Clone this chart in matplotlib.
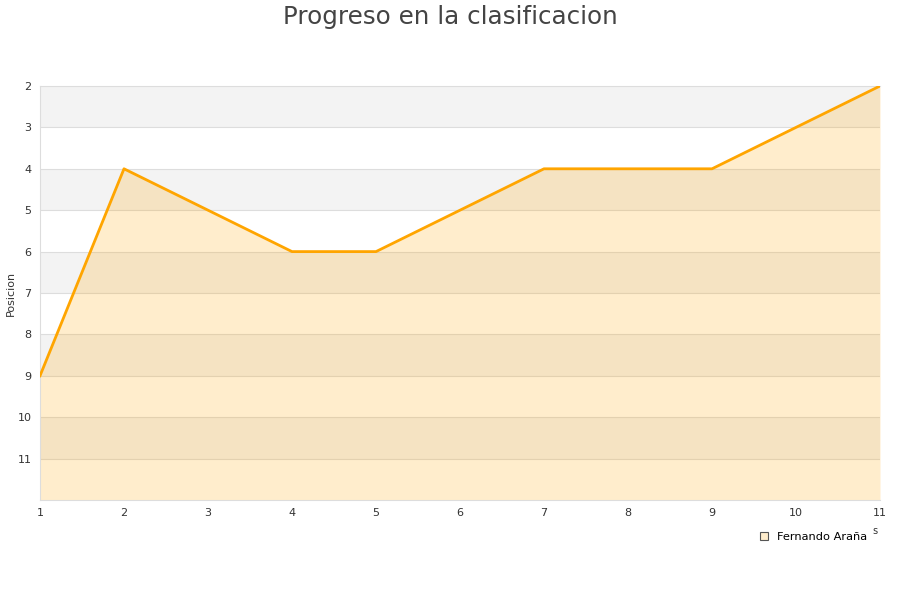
import matplotlib
matplotlib.use("Agg")
import matplotlib.pyplot as plt
from matplotlib.lines import Line2D

jornadas = [1, 2, 3, 4, 5, 6, 7, 8, 9, 10, 11]
posicion = [9, 4, 5, 6, 6, 5, 4, 4, 4, 3, 2]
y_ticks = [2, 3, 4, 5, 6, 7, 8, 9, 10, 11]
serie = "Fernando Araña"

fig = plt.figure(figsize=(9, 6), dpi=100)
ax = fig.add_axes([40/900, 1-500/600, 840/900, 414/600])

ax.set_xlim(1, 11)
ax.set_ylim(12, 2)

# alternating bands
for lo in range(2, 12, 2):
    ax.axhspan(lo, lo + 1, color="#f3f3f3", zorder=0, lw=0)
for y in range(3, 12):
    ax.axhline(y, color="#dddddd", lw=0.8, zorder=1)

ax.fill_between(jornadas, posicion, 12, color="#ffa500", alpha=0.2, lw=0, zorder=2)
ax.plot(jornadas, posicion, color="#ffa500", lw=2, zorder=3)

ax.set_xticks(jornadas)
ax.set_yticks(y_ticks)
ax.tick_params(length=0, labelsize=8, colors="#333333", pad=6)
for s in ["right"]:
    ax.spines[s].set_visible(False)
for s in ["left", "bottom", "top"]:
    ax.spines[s].set_color("#dddddd")
    ax.spines[s].set_linewidth(0.8)

ax.set_ylabel("Posicion", fontsize=8, color="#333333")
ax.yaxis.set_label_coords(-24/840, 0.5)

fig.text(0.5, 1 - 17/600, "Progreso en la clasificacion", ha="center", va="center",
         fontsize=17.7, color="#444444")

fig.text(875/900, 1 - 531/600, "s", ha="center", va="center", fontsize=7, color="#333333")

handle = Line2D([], [], marker="s", linestyle="none", markersize=6,
                markerfacecolor="#ffedcc", markeredgecolor="#555555", markeredgewidth=0.8)
fig.legend([handle], [serie], loc="center left", bbox_to_anchor=(754/900, 1 - 537/600),
           frameon=False, fontsize=8.2, handletextpad=0.6, borderaxespad=0, handlelength=1)

fig.savefig("out.png", dpi=100)
